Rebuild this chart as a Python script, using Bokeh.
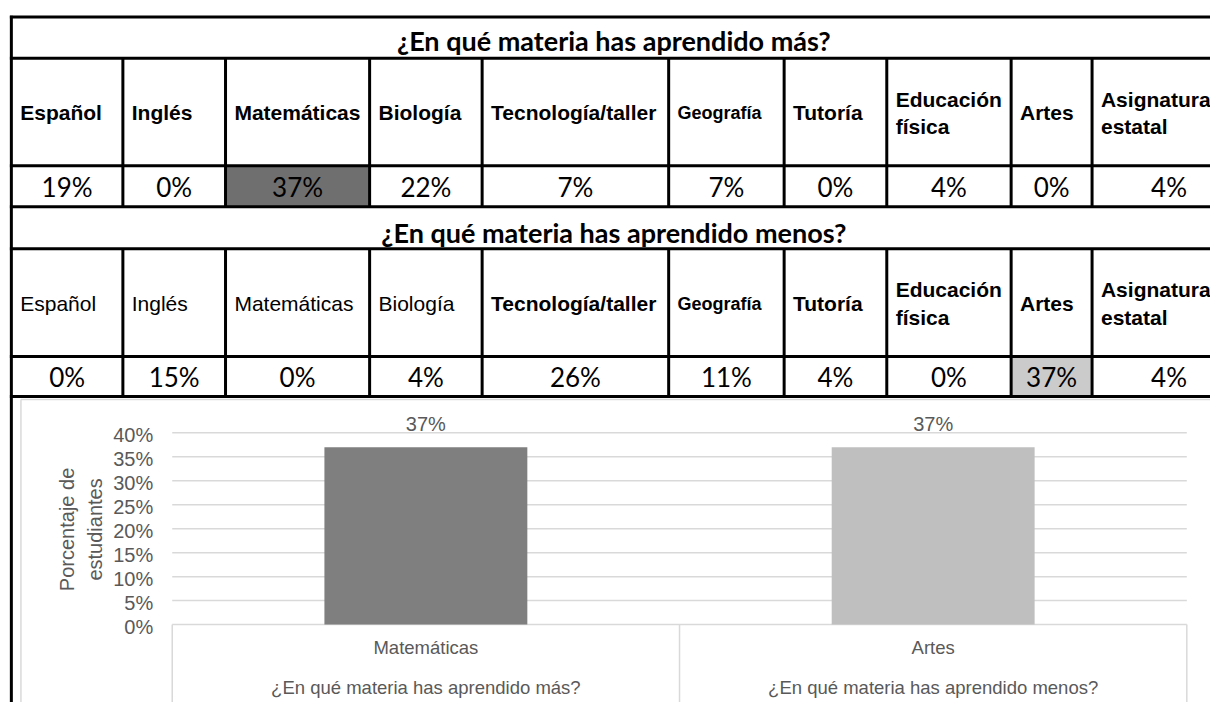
import math
from bokeh.plotting import figure
from bokeh.models import Range1d, ColumnDataSource
from bokeh.core.properties import value
from bokeh.embed import file_html
from bokeh.resources import INLINE

# ---------------- data ----------------
subjects = ["Español", "Inglés", "Matemáticas", "Biología", "Tecnología/taller",
            "Geografía", "Tutoría", "Educación física", "Artes", "Asignatura estatal"]
mas_values = [19, 0, 37, 22, 7, 7, 0, 4, 0, 4]
menos_values = [0, 15, 0, 4, 26, 11, 4, 0, 37, 4]
titles = ["¿En qué materia has aprendido más?", "¿En qué materia has aprendido menos?"]

chart_categories = ["Matemáticas", "Artes"]
chart_groups = ["¿En qué materia has aprendido más?", "¿En qué materia has aprendido menos?"]
chart_values = [37, 37]
y_ticks = [0, 5, 10, 15, 20, 25, 30, 35, 40]
y_title = "Porcentaje de\nestudiantes"

# ---------------- layout / style ----------------
W, H = 1210, 702            # figure size in screen pixels
VW, VH = 1226, 718          # reference canvas shown inside the figure
col_edges = [11, 124, 228, 374, 488, 677, 794, 898, 1024, 1106, 1262]
blocks = [(17, 59, 169, 211), (211, 254, 364, 405)]
title_cx = 621.5
title_cy = [41, 237.5]
value_cy = [191, 385]
wrap = {"Educación física": "Educación\nfísica", "Asignatura estatal": "Asignatura\nestatal"}
small_header = {"Geografía"}
regular_headers_block2 = {"Español", "Inglés", "Matemáticas", "Biología"}
highlight_colors = ["#6f6f6f", "#cbcbcb"]
bar_colors = ["#7f7f7f", "#bfbfbf"]
TXT = "#595959"
GRID = "#d9d9d9"
ARIAL = value("Liberation Sans")
CALIBRI = value("Lato")

p = figure(width=W, height=H, x_range=Range1d(0, VW), y_range=Range1d(VH, 0),
           output_backend="svg", toolbar_location=None,
           x_axis_location=None, y_axis_location=None, min_border=0,
           outline_line_color=None)
p.grid.visible = False
p.background_fill_color = "white"

# ---------------- chart ranges ----------------
base_y, y40 = 638.3, 442.2
px_per = (base_y - y40) / 40.0
cat_left, cat_w = 174.0, 514.0
pct_start = -(VH - base_y) / px_per
pct_end = base_y / px_per
p.extra_y_ranges = {"pct": Range1d(pct_start, pct_end)}
p.extra_x_ranges = {"cx": Range1d(-cat_left / cat_w, (VW - cat_left) / cat_w)}
n = len(chart_categories)
centers = [i + 0.5 for i in range(n)]

# chart outer border
p.segment(x0=[20.7, 20.7], y0=[408, 408], x1=[20.7, 1262], y1=[730, 408],
          line_color=GRID, line_width=1.5)

# gridlines
p.segment(x0=0, x1=n, y0=y_ticks, y1=y_ticks, line_color=GRID, line_width=1.5,
          x_range_name="cx", y_range_name="pct")
# category boxes
p.segment(x0=list(range(n + 1)), x1=list(range(n + 1)), y0=0, y1=pct_start - 1,
          line_color=GRID, line_width=1.5, x_range_name="cx", y_range_name="pct")

# bars
p.vbar(x=centers, top=chart_values, bottom=0, width=0.4, fill_color=bar_colors,
       line_color=None, x_range_name="cx", y_range_name="pct")

# tick labels
p.text(x=0, y=y_ticks, text=[f"{t}%" for t in y_ticks], x_offset=-19, y_offset=2,
       text_align="right", text_baseline="middle", text_font=ARIAL,
       text_font_size="20px", text_color=TXT, x_range_name="cx", y_range_name="pct")
# value labels
p.text(x=centers, y=chart_values, text=[f"{v}%" for v in chart_values], y_offset=-23,
       text_align="center", text_baseline="middle", text_font=ARIAL,
       text_font_size="20px", text_color=TXT, x_range_name="cx", y_range_name="pct")
# category labels
p.text(x=centers, y=0, text=chart_categories, y_offset=23, text_align="center",
       text_baseline="middle", text_font=ARIAL, text_font_size="18.5px", text_color=TXT,
       x_range_name="cx", y_range_name="pct")
p.text(x=centers, y=0, text=chart_groups, y_offset=63, text_align="center",
       text_baseline="middle", text_font=ARIAL, text_font_size="18.5px", text_color=TXT,
       x_range_name="cx", y_range_name="pct")
# axis title
p.text(x=[81.5], y=[541], text=[y_title], angle=math.pi / 2, text_align="center",
       text_baseline="middle", text_font=ARIAL, text_font_size="20px",
       text_line_height=1.25, text_color=TXT)

# ---------------- tables ----------------
tables = [mas_values, menos_values]
for bi, (t_top, h_top, v_top, v_bot) in enumerate(blocks):
    vals = tables[bi]
    # highlight the maximum cell
    k = vals.index(max(vals))
    p.quad(left=[col_edges[k]], right=[col_edges[k + 1]], top=[v_top], bottom=[v_bot],
           fill_color=highlight_colors[bi], line_color=None)
    # title
    p.text(x=[title_cx], y=[title_cy[bi]], text=[titles[bi]], text_align="center",
           text_baseline="middle", text_font=CALIBRI, text_font_style="bold",
           text_font_size="27px", text_color="black")
    # headers
    hx, hy, ht, hs, hz = [], [], [], [], []
    for i, s in enumerate(subjects):
        hx.append(col_edges[i] + 9)
        hy.append((h_top + v_top) / 2 + 1)
        ht.append(wrap.get(s, s))
        hs.append("normal" if (bi == 1 and s in regular_headers_block2) else "bold")
        hz.append("18px" if s in small_header else "21px")
    src = ColumnDataSource(dict(x=hx, y=hy, text=ht, style=hs, size=hz))
    p.text(x="x", y="y", text="text", source=src, text_align="left",
           text_baseline="middle", text_font=ARIAL, text_font_style="style",
           text_font_size="size", text_line_height=1.2, text_color="black")
    # values
    vx = [(col_edges[i] + col_edges[i + 1]) / 2 for i in range(len(vals))]
    p.text(x=vx, y=[value_cy[bi]] * len(vals), text=[f"{v}%" for v in vals],
           text_align="center", text_baseline="middle", text_font=CALIBRI,
           text_font_size="26px", text_color="black")

# table lines
hy_lines = sorted(set([b for blk in blocks for b in blk]))
p.segment(x0=[9.5] * len(hy_lines), x1=[1262] * len(hy_lines), y0=hy_lines, y1=hy_lines,
          line_color="black", line_width=3)
p.segment(x0=[11], x1=[11], y0=[15.5], y1=[730], line_color="black", line_width=3)
sx0, sy0, sy1 = [], [], []
for (t_top, h_top, v_top, v_bot) in blocks:
    for e in col_edges[1:]:
        sx0.append(e)
        sy0.append(h_top)
        sy1.append(v_bot)
p.segment(x0=sx0, x1=sx0, y0=sy0, y1=sy1, line_color="black", line_width=3)

open("out.html", "w").write(file_html(p, INLINE))
